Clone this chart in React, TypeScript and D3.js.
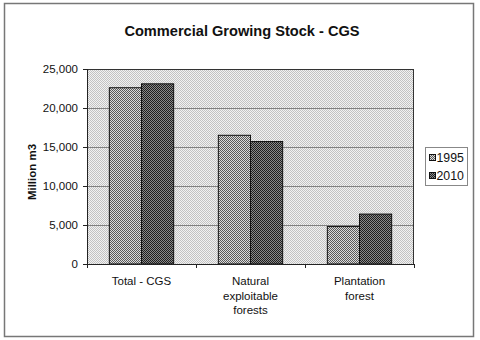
import React from "react";
import * as d3 from "d3";

const categories: string[][] = [["Total - CGS"], ["Natural", "exploitable", "forests"], ["Plantation", "forest"]];
const series = ["1995", "2010"];
const values1995 = [22600, 16500, 4800];
const values2010 = [23100, 15700, 6400];
const yTicks = [0, 5000, 10000, 15000, 20000, 25000];

export default function App() {
  const W = 480, H = 340;
  const left = 87, right = 414, top = 69, bottom = 264;
  const y = d3.scaleLinear().domain([0, 25000]).range([bottom, top]);
  const x0 = d3.scaleBand<number>().domain([0, 1, 2]).range([left, right]).paddingInner(0.41).paddingOuter(0.205);
  const x1 = d3.scaleBand<string>().domain(series).range([0, x0.bandwidth()]);
  const fmt = d3.format(",");
  const data = [values1995, values2010];
  const fills = ["url(#p1995)", "url(#p2010)"];
  const step = (right - left) / 3;
  const font = "Arial, 'Liberation Sans', sans-serif";
  return (
    <svg width={W} height={H} style={{ position: "absolute", left: 0, top: 0 }} fontFamily={font}>
      <defs>
        <pattern id="pbg" width={2} height={2} patternUnits="userSpaceOnUse">
          <rect width={2} height={2} fill="#f2f2f2" />
          <rect width={1} height={1} fill="#c2c2c2" />
          <rect x={1} y={1} width={1} height={1} fill="#c2c2c2" />
        </pattern>
        <pattern id="p1995" width={2} height={2} patternUnits="userSpaceOnUse">
          <rect width={2} height={2} fill="#dcdcdc" />
          <rect width={1} height={1} fill="#5a5a5a" />
          <rect x={1} y={1} width={1} height={1} fill="#5a5a5a" />
        </pattern>
        <pattern id="p2010" width={2} height={2} patternUnits="userSpaceOnUse">
          <rect width={2} height={2} fill="#8a8a8a" />
          <rect width={1} height={1} fill="#1e1e1e" />
          <rect x={1} y={1} width={1} height={1} fill="#1e1e1e" />
        </pattern>
      </defs>
      <rect x={0} y={0} width={W} height={H} fill="#fff" />
      <rect x={4.5} y={3.5} width={469} height={333} fill="#fff" stroke="#777" strokeWidth={1.5} />
      <text x={242} y={36} textAnchor="middle" fontSize={14.6} fontWeight="bold" fill="#111">
        Commercial Growing Stock - CGS
      </text>
      <rect x={left} y={top} width={right - left} height={bottom - top} fill="url(#pbg)" />
      {yTicks.filter((t) => t > 0).map((t) => (
        <line key={t} x1={left} x2={right} y1={Math.round(y(t)) + 0.5} y2={Math.round(y(t)) + 0.5} stroke="#808080" strokeWidth={1} />
      ))}
      <rect x={left + 0.5} y={top + 0.5} width={right - left - 1} height={bottom - top} fill="none" stroke="#333" strokeWidth={1} />
      {data.map((vals, si) =>
        vals.map((v, ci) => (
          <rect
            key={`${si}-${ci}`}
            x={(x0(ci) as number) + (x1(series[si]) as number)}
            y={y(v)}
            width={x1.bandwidth()}
            height={bottom - y(v)}
            fill={fills[si]}
            stroke="#111"
            strokeWidth={1}
          />
        ))
      )}
      <line x1={left} x2={right} y1={bottom + 0.5} y2={bottom + 0.5} stroke="#222" />
      <line x1={left + 0.5} x2={left + 0.5} y1={top} y2={bottom} stroke="#222" />
      {yTicks.map((t) => (
        <g key={t}>
          <line x1={left - 4} x2={left} y1={Math.round(y(t)) + 0.5} y2={Math.round(y(t)) + 0.5} stroke="#222" />
          <text x={78} y={y(t) + 4} textAnchor="end" fontSize={11.5} fill="#111">
            {fmt(t)}
          </text>
        </g>
      ))}
      {[0, 1, 2, 3].map((i) => (
        <line key={i} x1={Math.round(left + i * step) + 0.5} x2={Math.round(left + i * step) + 0.5} y1={bottom} y2={bottom + 4} stroke="#222" />
      ))}
      {categories.map((lines, ci) => (
        <text key={ci} textAnchor="middle" fontSize={11.5} fill="#111">
          {lines.map((l, li) => (
            <tspan key={li} x={(x0(ci) as number) + x0.bandwidth() / 2} y={285 + li * 14.5}>
              {l}
            </tspan>
          ))}
        </text>
      ))}
      <text transform={`translate(36,172) rotate(-90)`} textAnchor="middle" fontSize={11.5} fontWeight="bold" fill="#111">
        Million m3
      </text>
      <rect x={425.5} y={147.5} width={42} height={38} fill="#fff" stroke="#888" />
      {series.map((s, i) => (
        <g key={s}>
          <rect x={429.5} y={154.5 + i * 18} width={6} height={6} fill={fills[i]} stroke="#111" />
          <text x={436.5} y={162 + i * 18} fontSize={12.3} fill="#111">
            {s}
          </text>
        </g>
      ))}
    </svg>
  );
}
